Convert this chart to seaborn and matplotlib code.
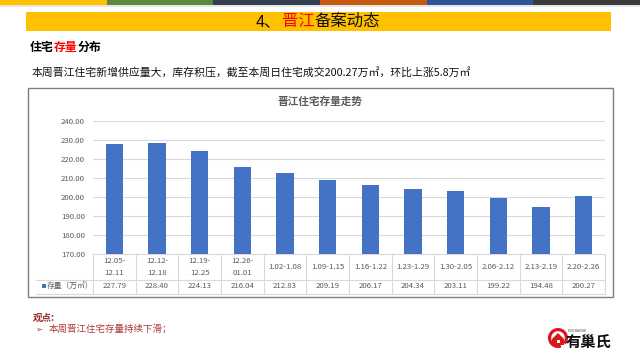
import matplotlib
matplotlib.use("Agg")
import matplotlib.pyplot as plt
import matplotlib.patches as mpatches
from matplotlib.transforms import blended_transform_factory
import seaborn as sns
import pandas as pd

# ---------------- data ----------------
weeks = ["12.05-12.11", "12.12-12.18", "12.19-12.25", "12.26-01.01",
         "1.02-1.08", "1.09-1.15", "1.16-1.22", "1.23-1.29",
         "1.30-2.05", "2.06-2.12", "2.13-2.19", "2.20-2.26"]
table_labels = ["12.05-\n12.11", "12.12-\n12.18", "12.19-\n12.25", "12.26-\n01.01",
                "1.02-1.08", "1.09-1.15", "1.16-1.22", "1.23-1.29",
                "1.30-2.05", "2.06-2.12", "2.13-2.19", "2.20-2.26"]
stock = [227.79, 228.40, 224.13, 216.04, 212.83, 209.19,
         206.17, 204.34, 203.11, 199.22, 194.48, 200.27]
y_ticks = [170, 180, 190, 200, 210, 220, 230, 240]
series_name = "存量（万㎡）"
chart_title = "晋江住宅存量走势"
stripe_colors = ["#FFC000", "#5A8A3A", "#333F50", "#C55A11", "#2F5597", "#3B3B3B"]

df = pd.DataFrame({"week": weeks, "stock": stock})

# ---------------- style ----------------
sns.set_style("white")
plt.rcParams["font.family"] = ["Noto Sans CJK SC", "DejaVu Sans"]

W, H = 640, 355
fig = plt.figure(figsize=(W / 100, H / 100), dpi=100)
fig.patch.set_facecolor("white")

# background overlay in pixel coordinates
bg = fig.add_axes([0, 0, 1, 1], zorder=0)
bg.set_xlim(0, W)
bg.set_ylim(H, 0)
bg.axis("off")

# top stripe
seg = W / len(stripe_colors)
for i, c in enumerate(stripe_colors):
    bg.add_patch(mpatches.Rectangle((i * seg, 0), seg, 5, color=c, lw=0))
bg.add_patch(mpatches.Rectangle((0, 5), W, 2, color="#D8D8D8", lw=0, alpha=0.6))

# title bar
bg.add_patch(mpatches.Rectangle((26, 12), 585, 19, color="#FFC000", lw=0))


def em_text(x, y, parts, size, weight="normal"):
    """parts: (string, colour, advance in em). CJK glyphs advance exactly 1 em."""
    em = size * 100 / 72
    cx = x
    for s, c, adv in parts:
        bg.text(cx, y, s, fontsize=size, fontweight=weight, color=c,
                ha="left", va="center")
        cx += adv * em


title_size = 11.8
title_em = title_size * 100 / 72
title_parts = [("4、", "#111111", 1.56), ("晋江", "#FF0000", 2), ("备案动态", "#111111", 4)]
title_w = sum(p[2] for p in title_parts) * title_em
em_text(318 - title_w / 2, 21.5, title_parts, title_size)

em_text(30, 47.5, [("住宅", "#000000", 2), ("存量", "#FF0000", 2), ("分布", "#000000", 2)],
        8.6, weight="bold")
bg.text(32, 73, "本周晋江住宅新增供应量大，库存积压，截至本周日住宅成交200.27万㎡，环比上涨5.8万㎡",
        fontsize=7.8, color="#111111", ha="left", va="center")

# chart box
bg.add_patch(mpatches.Rectangle((28, 88), 585, 209, facecolor="white",
                                edgecolor="#7F7F7F", lw=1.0))
bg.text(320, 102, chart_title, fontsize=7.7, fontweight="bold",
        color="#595959", ha="center", va="center")

# footer
bg.text(33, 317.5, "观点:", fontsize=6.8, fontweight="bold", color="#962B2B",
        ha="left", va="center")
bg.text(35, 329, "➢", fontsize=6.0, color="#B03A3A", ha="left", va="center",
        family=["DejaVu Sans"])
bg.text(49, 329, "本周晋江住宅存量持续下滑；", fontsize=6.8, color="#B03A3A",
        ha="left", va="center")

# logo
bg.add_patch(mpatches.Wedge((558, 338), 10, 70, 400, width=3.2, color="#D7161E", lw=0))
bg.add_patch(mpatches.Polygon([(552, 339), (558, 333), (564, 339), (564, 345), (552, 345)],
                              closed=True, color="#D7161E", lw=0))
bg.add_patch(mpatches.Rectangle((556.5, 339.5), 3, 3, color="white", lw=0))
bg.text(567, 330.5, "YOUCHAOSHI", fontsize=2.2, color="#333333", ha="left", va="center")
bg.text(566, 341.5, "有巢氏", fontsize=11, fontweight="bold", color="#111111",
        ha="left", va="center")

# ---------------- chart axes ----------------
ax_left, ax_right, ax_top, ax_bot = 93, 605, 121, 254
ax = fig.add_axes([ax_left / W, 1 - ax_bot / H, (ax_right - ax_left) / W,
                   (ax_bot - ax_top) / H], zorder=1)
ax.patch.set_alpha(0)

sns.barplot(data=df, x="week", y="stock", color="#4472C4", saturation=1,
            width=0.4, linewidth=0, ax=ax, zorder=3)
ax.set_ylim(170, 240)
ax.set_xlim(-0.5, len(weeks) - 0.5)
ax.set_yticks(y_ticks)
ax.set_yticklabels([f"{v:.2f}" for v in y_ticks], fontsize=5.6, color="#595959")
ax.tick_params(axis="y", length=0, pad=5.8)
ax.tick_params(axis="x", length=0, labelbottom=False)
ax.set_xlabel("")
ax.set_ylabel("")
ax.grid(axis="y", color="#D9D9D9", lw=0.8, zorder=0)
ax.set_axisbelow(True)
for s in ax.spines.values():
    s.set_visible(False)

# ---------------- data table ----------------
tr = blended_transform_factory(ax.transData, bg.transData)
line_c = "#D9D9D9"
row_top, row_mid, row_bot = 254, 279.5, 293.5
for i in range(len(weeks) + 1):
    ax.plot([i - 0.5, i - 0.5], [row_top, row_bot], color=line_c, lw=0.8,
            transform=tr, clip_on=False)
bg.plot([ax_left, ax_right], [row_top, row_top], color=line_c, lw=0.8, zorder=2)
for yy in (row_mid, row_bot):
    bg.plot([36, ax_right], [yy, yy], color=line_c, lw=0.8, zorder=2)

for i, (lab, v) in enumerate(zip(table_labels, stock)):
    ax.text(i, 267, lab, transform=tr, fontsize=5.6, color="#595959",
            ha="center", va="center", linespacing=1.7, clip_on=False)
    ax.text(i, 286.5, f"{v:.2f}", transform=tr, fontsize=5.6, color="#595959",
            ha="center", va="center", clip_on=False)

bg.add_patch(mpatches.Rectangle((41.5, 283.5), 4, 4, color="#4472C4", lw=0, zorder=3))
bg.text(46.5, 286.5, series_name, fontsize=5.6, color="#595959", ha="left", va="center",
        zorder=3)

fig.savefig("out.png", dpi=100, facecolor="white")
